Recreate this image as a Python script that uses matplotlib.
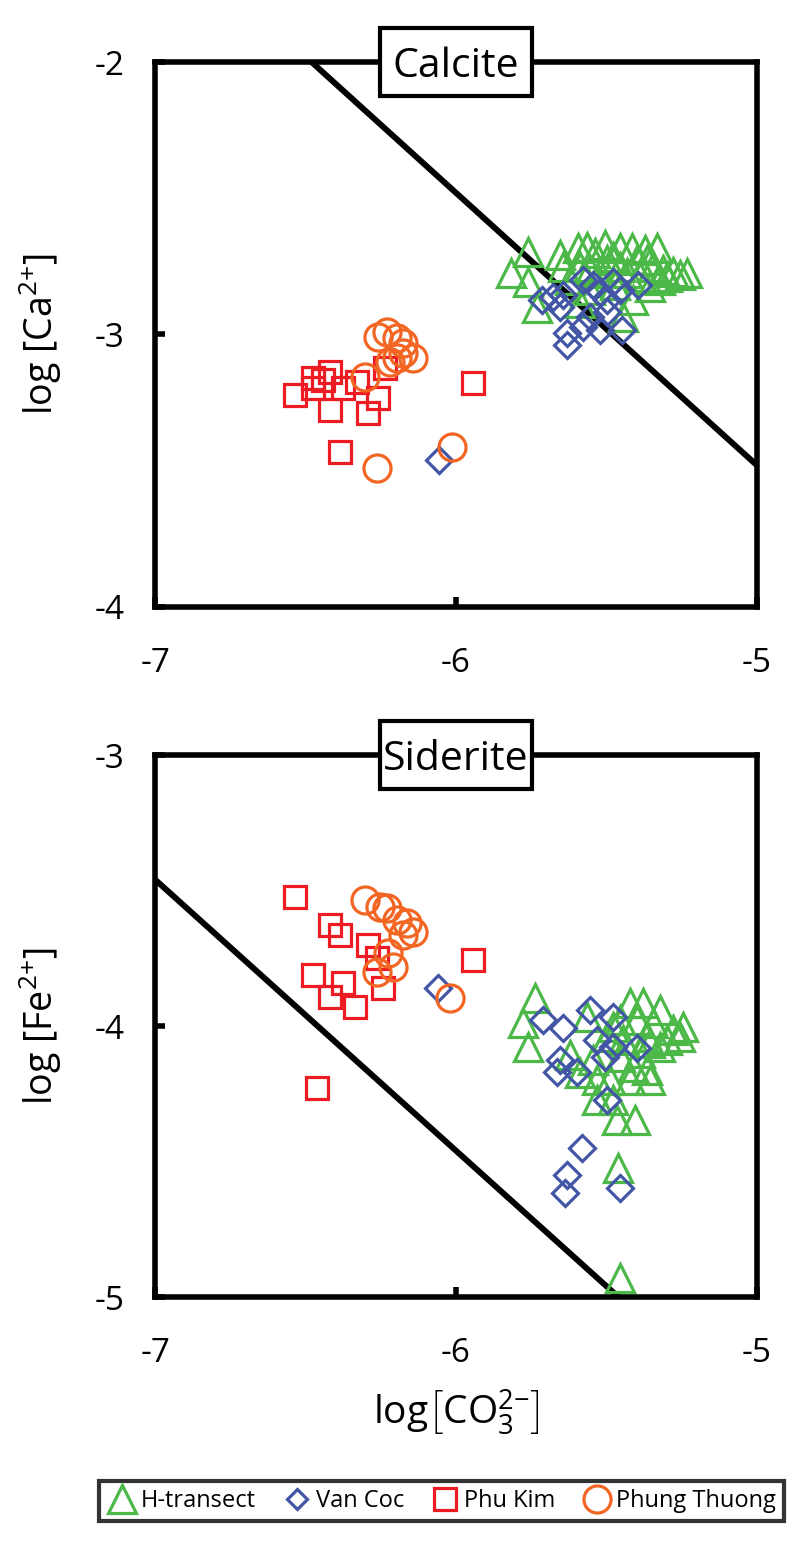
import numpy as np
import matplotlib.pyplot as plt
from matplotlib.lines import Line2D
from matplotlib.patches import Rectangle

plt.rcParams['font.family'] = ['Open Sans', 'DejaVu Sans']
plt.rcParams['mathtext.fontset'] = 'custom'
plt.rcParams['mathtext.rm'] = 'Open Sans'
plt.rcParams['mathtext.it'] = 'Open Sans:italic'

# log Ksp used for the saturation lines
logK_calcite = -8.48
logK_siderite = -10.46

# ---- calcite panel: log[CO3 2-], log[Ca 2+]
cal_h_x = [-5.761, -5.817, -5.761, -5.654, -5.645, -5.595, -5.565, -5.538, -5.455, -5.415,
           -5.332, -5.498, -5.478, -5.399, -5.365, -5.346, -5.312, -5.279, -5.233, -5.256,
           -5.299, -5.322, -5.355, -5.412, -5.731, -5.445, -5.588, -5.555, -5.522, -5.432,
           -5.389, -5.455, -5.588, -5.505, -5.372, -5.621, -5.472, -5.555]
cal_h_y = [-2.697, -2.774, -2.807, -2.708, -2.752, -2.683, -2.679, -2.701, -2.683, -2.683,
           -2.683, -2.727, -2.716, -2.727, -2.727, -2.752, -2.763, -2.771, -2.774, -2.782,
           -2.789, -2.800, -2.826, -2.873, -2.903, -2.936, -2.752, -2.763, -2.774, -2.774,
           -2.789, -2.752, -2.884, -2.672, -2.690, -2.800, -2.818, -2.837]
cal_v_x = [-5.714, -5.678, -5.645, -5.654, -5.578, -5.545, -5.522, -5.478, -5.455, -5.395,
           -5.498, -5.631, -5.631, -5.578, -5.522, -5.449, -5.498, -5.555, -6.057]
cal_v_y = [-2.873, -2.862, -2.855, -2.899, -2.800, -2.818, -2.844, -2.807, -2.837, -2.818,
           -2.873, -2.994, -3.039, -2.972, -2.983, -2.983, -2.917, -2.936, -3.461]
cal_p_x = [-6.535, -6.475, -6.475, -6.419, -6.419, -6.375, -6.329, -6.259, -6.292, -6.236,
           -6.385, -5.944, -6.442]
cal_p_y = [-3.222, -3.160, -3.196, -3.138, -3.277, -3.196, -3.174, -3.233, -3.288, -3.123,
           -3.431, -3.178, -3.167]
cal_t_x = [-6.259, -6.229, -6.196, -6.176, -6.143, -6.196, -6.219, -6.176, -6.302, -6.262, -6.013]
cal_t_y = [-3.009, -2.991, -3.013, -3.031, -3.086, -3.086, -3.101, -3.068, -3.156, -3.490, -3.413]

# ---- siderite panel: log[CO3 2-], log[Fe 2+]
sid_h_x = [-5.738, -5.777, -5.761, -5.565, -5.621, -5.588, -5.532, -5.532, -5.478, -5.465,
           -5.405, -5.462, -5.422, -5.379, -5.322, -5.246, -5.279, -5.346, -5.399, -5.455,
           -5.478, -5.498, -5.445, -5.365, -5.299, -5.256, -5.322, -5.455, -5.412, -5.365,
           -5.355, -5.422, -5.488, -5.545, -5.389, -5.355, -5.455]
sid_h_y = [-3.897, -3.989, -4.077, -3.967, -4.107, -4.173, -4.199, -4.273, -4.273, -4.347,
           -4.347, -4.524, -3.915, -3.915, -3.941, -4.004, -4.015, -3.989, -3.978, -3.978,
           -4.004, -4.041, -4.052, -4.041, -4.052, -4.041, -4.077, -4.114, -4.151, -4.162,
           -4.199, -4.199, -4.199, -4.125, -4.100, -4.063, -4.930]
sid_v_x = [-6.060, -5.711, -5.645, -5.555, -5.478, -5.532, -5.478, -5.505, -5.399, -5.654,
           -5.664, -5.598, -5.498, -5.581, -5.631, -5.638, -5.455]
sid_v_y = [-3.860, -3.978, -4.007, -3.941, -3.967, -4.052, -4.077, -4.114, -4.081, -4.125,
           -4.170, -4.170, -4.273, -4.450, -4.550, -4.616, -4.598]
sid_p_x = [-6.535, -6.419, -6.385, -6.292, -6.262, -6.475, -6.419, -6.375, -6.336, -6.243,
           -5.944, -6.462]
sid_p_y = [-3.524, -3.627, -3.664, -3.701, -3.749, -3.812, -3.893, -3.841, -3.930, -3.860,
           -3.756, -4.229]
sid_t_x = [-6.302, -6.252, -6.229, -6.196, -6.163, -6.143, -6.176, -6.226, -6.209, -6.262, -6.020]
sid_t_y = [-3.535, -3.561, -3.565, -3.609, -3.620, -3.653, -3.664, -3.731, -3.782, -3.801, -3.897]

names = ['H-transect', 'Van Coc', 'Phu Kim', 'Phung Thuong']
green = '#4bb848'
blue = '#4356a6'
red = '#ed1c24'
orange = '#f26522'

styles = [('^', green, 20), ('D', blue, 13), ('s', red, 16), ('o', orange, 19.5)]

fig = plt.figure(figsize=(8, 15.52), dpi=100)
ax1 = fig.add_axes([0.194, 0.609, 0.752, 0.351])
ax2 = fig.add_axes([0.194, 0.1643, 0.752, 0.3492])


def panel(ax, series, logK, ylim, yticks, ylabel, title):
    xl = np.array([-7.0, -5.0])
    ax.plot(xl, logK - xl, color='black', lw=4.3, zorder=1)
    for (x, y), (m, c, ms) in zip(series, styles):
        ax.plot(x, y, ls='none', marker=m, ms=ms, mfc='none', mec=c, mew=2.3, zorder=2)
    ax.set_xlim(-7, -5)
    ax.set_ylim(*ylim)
    ax.set_xticks([-7, -6, -5])
    ax.set_xticklabels(['-7', '-6', '-5'])
    ax.set_yticks(yticks)
    ax.set_yticklabels([str(int(v)) for v in yticks])
    ax.tick_params(direction='in', length=7, width=4, labelsize=24, pad=22)
    ax.tick_params(axis='x', pad=29)
    for s in ax.spines.values():
        s.set_linewidth(4)
    ax.set_ylabel(ylabel, fontsize=27, labelpad=22)
    ax.add_patch(Rectangle((0.373, 0.9375), 0.254, 0.125, transform=ax.transAxes,
                           fc='white', ec='black', lw=3, clip_on=False, zorder=4))
    ax.text(0.5, 1.0, title, transform=ax.transAxes, ha='center', va='center_baseline',
            fontsize=29.5, zorder=5)


panel(ax1, [(cal_h_x, cal_h_y), (cal_v_x, cal_v_y), (cal_p_x, cal_p_y), (cal_t_x, cal_t_y)],
      logK_calcite, (-4, -2), [-4, -3, -2], r'log [Ca$^{2{+}}$]', 'Calcite')
panel(ax2, [(sid_h_x, sid_h_y), (sid_v_x, sid_v_y), (sid_p_x, sid_p_y), (sid_t_x, sid_t_y)],
      logK_siderite, (-5, -3), [-5, -4, -3], r'log [Fe$^{2{+}}$]', 'Siderite')
ax2.set_xlabel(r'log$\left[\mathrm{CO}_3^{2{-}}\right]$', fontsize=28, labelpad=12)

handles = [Line2D([], [], ls='none', marker=m, ms=ms, mfc='none', mec=c, mew=2.3)
           for (m, c, ms) in styles]
handles[1].set_markersize(10)
leg = fig.legend(handles, names, loc='center', bbox_to_anchor=(0.552, 0.0329), ncol=4,
                 fontsize=17, frameon=True, fancybox=False, edgecolor='black',
                 handletextpad=0.2, columnspacing=1.15, borderpad=0.35, handlelength=1.2)
leg.get_frame().set_linewidth(3)

fig.savefig('out.png', dpi=100)
